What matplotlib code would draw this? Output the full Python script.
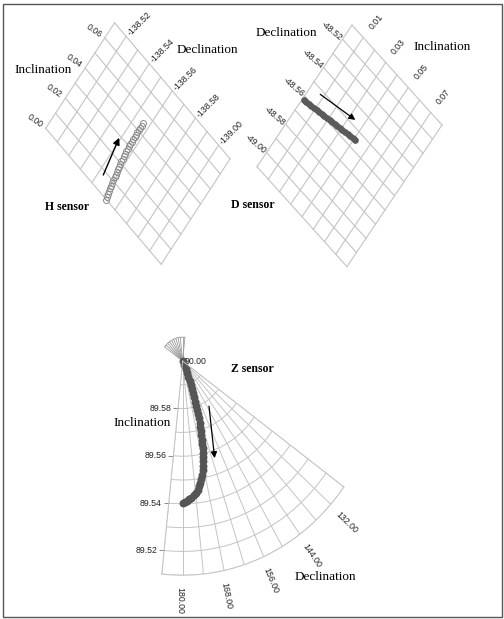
import numpy as np
import matplotlib
matplotlib.use("Agg")
import matplotlib.pyplot as plt
from matplotlib.transforms import Affine2D, ScaledTranslation
from matplotlib.patches import Rectangle

# ---------------- H sensor ----------------
h_inc = [0.0000, 0.0015, 0.0030, 0.0045, 0.0060, 0.0075, 0.0090, 0.0105,
         0.0120, 0.0135, 0.0150, 0.0165, 0.0180, 0.0195, 0.0210, 0.0225,
         0.0240, 0.0255, 0.0270, 0.0285, 0.0300, 0.0315, 0.0330, 0.0345,
         0.0360, 0.0375, 0.0390, 0.0405, 0.0420, 0.0435, 0.0450]
h_dec = [-138.5624, -138.5620, -138.5616, -138.5612, -138.5608, -138.5604,
         -138.5601, -138.5597, -138.5594, -138.5590, -138.5587, -138.5584,
         -138.5581, -138.5579, -138.5576, -138.5574, -138.5572, -138.5570,
         -138.5569, -138.5567, -138.5566, -138.5565, -138.5564, -138.55635,
         -138.5563, -138.55625, -138.5562, -138.5562, -138.5562, -138.5562,
         -138.5562]
h_dec_ticks = [-138.52, -138.54, -138.56, -138.58, -138.60]
h_dec_labels = ["-138.52", "-138.54", "-138.56", "-138.58", "-139.00"]
h_inc_ticks = [0.00, 0.02, 0.04, 0.06]
h_inc_labels = ["0.00", "0.02", "0.04", "0.06"]
h_dec_lim = (-138.51, -138.61)
h_inc_lim = (0.00, 0.07)
h_arrow_from = (-138.5531, 0.0079)
h_arrow_to = (-138.5490, 0.0289)

# ---------------- D sensor ----------------
d_inc = [0.001, 0.003, 0.005, 0.007, 0.009, 0.011, 0.013, 0.015, 0.017,
         0.019, 0.021, 0.023, 0.025, 0.027, 0.029, 0.031, 0.033, 0.035,
         0.037, 0.039, 0.041]
d_dec = [-48.5620, -48.5616, -48.5613, -48.5610, -48.5606, -48.5602,
         -48.5599, -48.5596, -48.5592, -48.5588, -48.5585, -48.5582,
         -48.5578, -48.5574, -48.5571, -48.5568, -48.5564, -48.5560,
         -48.5557, -48.5554, -48.5550]
d_dec_ticks = [-48.52, -48.54, -48.56, -48.58, -48.60]
d_dec_labels = ["-48.52", "-48.54", "-48.56", "-48.58", "-49.00"]
d_inc_ticks = [0.01, 0.03, 0.05, 0.07]
d_inc_labels = ["0.01", "0.03", "0.05", "0.07"]
d_dec_lim = (-48.51, -48.61)
d_inc_lim = (0.00, 0.08)
d_arrow_from = (-48.5523, 0.0075)
d_arrow_to = (-48.5469, 0.0341)

# ---------------- Z sensor ----------------
z_inc = [89.6000, 89.5982, 89.5964, 89.5946, 89.5928, 89.5910, 89.5892,
         89.5874, 89.5856, 89.5838, 89.5820, 89.5802, 89.5784, 89.5766,
         89.5748, 89.5730, 89.5712, 89.5694, 89.5676, 89.5658, 89.5640,
         89.5622, 89.5604, 89.5586, 89.5568, 89.5550, 89.5532, 89.5514,
         89.5498, 89.5483, 89.5468, 89.5455, 89.5443, 89.5434, 89.5425,
         89.5418, 89.5412, 89.5408, 89.5405]
z_dec = [157.5, 157.8, 158.3, 158.8, 159.3, 159.6, 159.9, 160.2, 160.5,
         160.8, 161.2, 161.6, 162.0, 162.4, 162.9, 163.3, 163.8, 164.3,
         164.8, 165.2, 165.7, 166.2, 166.7, 167.2, 167.7, 168.3, 168.9,
         169.5, 170.4, 171.2, 172.0, 172.9, 173.9, 174.9, 176.0, 177.0,
         178.0, 179.0, 180.0]
z_dec_grid = [126, 132, 138, 144, 150, 156, 162, 168, 174, 180, 186]
z_inc_grid = [89.59, 89.58, 89.57, 89.56, 89.55, 89.54, 89.53, 89.52, 89.51]
z_dec_ticks = [180, 168, 156, 144, 132]
z_dec_labels = ["180.00", "168.00", "156.00", "144.00", "132.00"]
z_inc_ticks = [89.58, 89.56, 89.54, 89.52]
z_inc_labels = ["89.58", "89.56", "89.54", "89.52"]
z_arrow_from = (147.9, 89.5776)
z_arrow_to = (160.5, 89.5567)

GRID = "#c4c4c4"
SERIF = "Liberation Serif"
SANS = "Liberation Sans"

fig = plt.figure(figsize=(5.04, 6.19), dpi=100)
ax = fig.add_axes([0, 0, 1, 1])
ax.set_xlim(0, 504)
ax.set_ylim(619, 0)
ax.axis("off")


def grid_transform(dec0, origin, a, b):
    # (dec, inc) -> cell index -> pixel position of the skewed grid
    idx = Affine2D().translate(-dec0, 0).scale(-100, 100)
    cell = Affine2D(np.array([[a[0], b[0], origin[0]],
                              [a[1], b[1], origin[1]],
                              [0, 0, 1]]))
    return idx + cell + ax.transData


def draw_grid(tr, dec_lim, inc_lim):
    n_dec = int(round(abs(dec_lim[1] - dec_lim[0]) * 100))
    n_inc = int(round(abs(inc_lim[1] - inc_lim[0]) * 100))
    for k in range(n_dec + 1):
        d = dec_lim[0] - k * 0.01
        ax.plot([d, d], inc_lim, color=GRID, lw=0.8, transform=tr)
    for k in range(n_inc + 1):
        v = inc_lim[0] + k * 0.01
        ax.plot(dec_lim, [v, v], color=GRID, lw=0.8, transform=tr)


# H sensor panel
tr_h = grid_transform(-138.51, (45.7, 128.3), (11.55, 13.6), (9.84, -15.07))
draw_grid(tr_h, h_dec_lim, h_inc_lim)
ax.plot(h_dec, h_inc, "o", ms=4.3, mfc="none", mec="#8c8c8c", mew=0.7,
        transform=tr_h)
for t, lab in zip(h_dec_ticks, h_dec_labels):
    ax.text(t - 0.0024, 0.0804, lab, transform=tr_h, rotation=45,
            ha="center", va="center", rotation_mode="anchor",
            fontsize=6.3, family=SANS, color="#222")
for t, lab in zip(h_inc_ticks, h_inc_labels):
    ax.text(-138.5023, t - 0.0021, lab, transform=tr_h, rotation=-35,
            ha="center", va="center", rotation_mode="anchor",
            fontsize=6.3, family=SANS, color="#222")
ax.annotate("", xy=h_arrow_to, xycoords=tr_h, xytext=h_arrow_from,
            textcoords=tr_h,
            arrowprops=dict(arrowstyle="-|>", color="black", lw=1.0,
                            mutation_scale=10, shrinkA=0, shrinkB=0))
ax.text(42.8, 70, "Inclination", fontsize=9.5, family=SERIF,
        ha="center", va="center")
ax.text(207.8, 50, "Declination", fontsize=9.5, family=SERIF,
        ha="center", va="center")
ax.text(67.2, 207.3, "H sensor", fontsize=8.5, family=SERIF,
        weight="bold", ha="center", va="center")

# D sensor panel
tr_d = grid_transform(-48.51, (352, 25), (-9.5, 14.17), (11.25, 12.5))
draw_grid(tr_d, d_dec_lim, d_inc_lim)
ax.plot(d_dec, d_inc, "o", ms=3.8, color="#5a5a5a", mec="#5a5a5a",
        transform=tr_d)
for t, lab in zip(d_dec_ticks, d_dec_labels):
    ax.text(t - 0.0016, -0.0086, lab, transform=tr_d, rotation=-40,
            ha="center", va="center", rotation_mode="anchor",
            fontsize=6.3, family=SANS, color="#222")
for t, lab in zip(d_inc_ticks, d_inc_labels):
    ax.text(-48.498, t + 0.001, lab, transform=tr_d, rotation=50,
            ha="center", va="center", rotation_mode="anchor",
            fontsize=6.3, family=SANS, color="#222")
ax.annotate("", xy=d_arrow_to, xycoords=tr_d, xytext=d_arrow_from,
            textcoords=tr_d,
            arrowprops=dict(arrowstyle="-|>", color="black", lw=0.9,
                            mutation_scale=9, shrinkA=0, shrinkB=0))
ax.text(286.2, 33.3, "Declination", fontsize=9.5, family=SERIF,
        ha="center", va="center")
ax.text(442.3, 46.7, "Inclination", fontsize=9.5, family=SERIF,
        ha="center", va="center")
ax.text(252.5, 205, "D sensor", fontsize=8.5, family=SERIF,
        weight="bold", ha="center", va="center")

# Z sensor panel: polar sector, slightly taller than wide like the source
RX, RY = 202.0, 217.0  # horizontal / vertical radius in pixels
apex = (181.7, 361.0)
left = apex[0] - (np.sin(np.radians(6)) + 0.0432) * RX
axz = fig.add_axes([left / 504, (619 - apex[1] - RY) / 619, RX / 504, RY / 619],
                   projection="polar")
axz.set_aspect("auto")
axz.set_theta_zero_location("N")
axz.set_theta_direction(-1)
axz.set_thetamin(126)
axz.set_thetamax(186)
axz.set_ylim(89.60, 89.51)
axz.set_xticks(np.radians(z_dec_grid))
axz.set_yticks(z_inc_grid)
axz.set_xticklabels([])
axz.set_yticklabels([])
axz.tick_params(length=0)
axz.grid(True, color=GRID, lw=0.7)
axz.patch.set_visible(False)
for s in axz.spines.values():
    s.set_color(GRID)
    s.set_linewidth(0.7)

# short stubs of the grid on the far side of the apex
for d in z_dec_grid:
    axz.plot(np.radians([d + 180, d + 180]), [89.60, 89.59], color="#9a9a9a",
             lw=0.6, clip_on=False)
back = np.radians(np.linspace(z_dec_grid[0] + 180, z_dec_grid[-1] + 180, 30))
axz.plot(back, np.full(back.shape, 89.59), color="#9a9a9a", lw=0.6,
         clip_on=False)

axz.plot(np.radians(z_dec), z_inc, "o", ms=4.7, color="#555555",
         mec="#555555", clip_on=False)
axz.annotate("", xy=(np.radians(z_arrow_to[0]), z_arrow_to[1]),
             xytext=(np.radians(z_arrow_from[0]), z_arrow_from[1]),
             arrowprops=dict(arrowstyle="-|>", color="black", lw=0.9,
                             mutation_scale=9, shrinkA=0, shrinkB=0))

shift = ScaledTranslation(-5 / 72, 0, fig.dpi_scale_trans)
for t, lab in zip(z_inc_ticks, z_inc_labels):
    axz.text(np.radians(186), t, lab, transform=axz.transData + shift,
             ha="right", va="center", fontsize=6.3, family=SANS, color="#222")
axz.plot(np.radians([186] * len(z_inc_ticks)), z_inc_ticks, ls="none",
         marker=0, ms=3.5, color="#777", mew=0.6, clip_on=False)
for t, lab in zip(z_dec_ticks, z_dec_labels):
    c = np.radians(t)
    rot = np.degrees(np.arctan2(RY * np.cos(c), RX * np.sin(c)))
    axz.text(np.radians(t + 0.6), 89.4995, lab, rotation=rot,
             ha="center", va="center", rotation_mode="anchor",
             fontsize=6.3, family=SANS, color="#222")

ax.text(185, 361, "90.00", fontsize=6.3, family=SANS, color="#222",
        ha="left", va="center")
ax.text(252.5, 369, "Z sensor", fontsize=8.5, family=SERIF,
        weight="bold", ha="center", va="center")
ax.text(141.7, 423.3, "Inclination", fontsize=9.5, family=SERIF,
        ha="center", va="center")
ax.text(325, 577.3, "Declination", fontsize=9.5, family=SERIF,
        ha="center", va="center")

ax.add_patch(Rectangle((2.5, 3.5), 499, 613, fill=False, ec="#555",
                       lw=1.0))

fig.savefig("out.png", dpi=100)
